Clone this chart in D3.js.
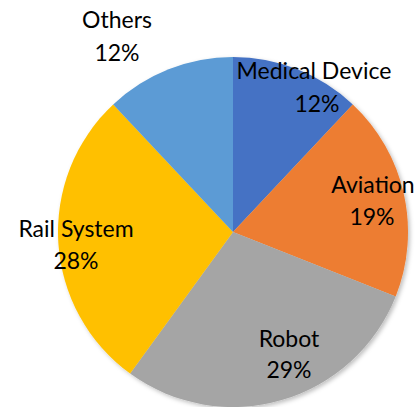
<!DOCTYPE html>
<html>
<head>
<meta charset="utf-8">
<script src="https://cdn.jsdelivr.net/npm/d3@7"></script>
<style>
  html, body { margin: 0; padding: 0; background: #fff; }
  svg { display: block; }
  text { font-family: Lato, "Open Sans", sans-serif; font-size: 23px; fill: #000; }
</style>
</head>
<body>
<svg id="chart" width="419" height="407"></svg>
<script>
// Share of applications by sector (percent)
const categories = ["Medical Device", "Aviation", "Robot", "Rail System", "Others"];
const shares = [12, 19, 29, 28, 12];
const colors = ["#4472C4", "#ED7D31", "#A5A5A5", "#FFC000", "#5B9BD5"];
// Label baselines (name line, value line) per slice
const labelPos = [
  { name: [314, 79], value: [317, 112] },
  { name: [373, 193], value: [372, 225] },
  { name: [289, 347], value: [289, 378] },
  { name: [76, 237], value: [76, 269] },
  { name: [117, 28], value: [117, 61] }
];

const cx = 233, cy = 232, radius = 175;
const svg = d3.select("#chart");

const defs = svg.append("defs");
const f = defs.append("filter").attr("id", "shadow")
  .attr("x", "-10%").attr("y", "-10%").attr("width", "120%").attr("height", "120%");
f.append("feDropShadow").attr("dx", 2).attr("dy", 2).attr("stdDeviation", 2)
  .attr("flood-color", "#000").attr("flood-opacity", 0.25);

const pie = d3.pie().sort(null).value(d => d);
const arc = d3.arc().innerRadius(0).outerRadius(radius);
const color = d3.scaleOrdinal().domain(categories).range(colors);

const g = svg.append("g").attr("transform", `translate(${cx},${cy})`);
g.append("g").attr("filter", "url(#shadow)")
  .selectAll("path")
  .data(pie(shares))
  .join("path")
  .attr("d", arc)
  .attr("fill", (d, i) => color(categories[i]));

const labels = svg.append("g");
categories.forEach((c, i) => {
  const p = labelPos[i];
  labels.append("text").attr("x", p.name[0]).attr("y", p.name[1])
    .attr("text-anchor", "middle").text(c);
  labels.append("text").attr("x", p.value[0]).attr("y", p.value[1])
    .attr("text-anchor", "middle").text(shares[i] + "%");
});
</script>
</body>
</html>
